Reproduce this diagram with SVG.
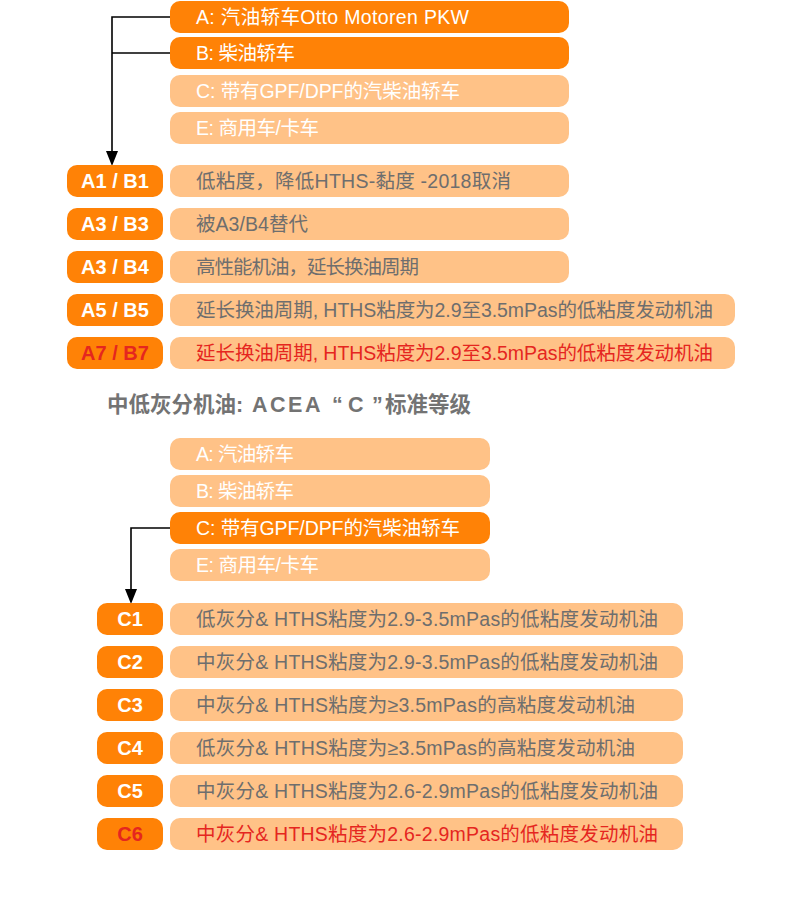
<svg xmlns="http://www.w3.org/2000/svg" width="800" height="904" viewBox="0 0 800 904">
<style>
text{font-family:"Liberation Sans","Noto Sans CJK SC",sans-serif;}
.dk{fill:#FF8206;}
.lt{fill:#FFC287;}
.tw{fill:#FFFFFF;font-size:19.5px;}
.tg{fill:#6E6E6E;font-size:19.5px;}
.tr{fill:#E5261F;font-size:19.5px;}
.lb{fill:#FFFFFF;font-size:20px;font-weight:bold;text-anchor:middle;}
.lbr{fill:#E5261F;font-size:20px;font-weight:bold;text-anchor:middle;}
.hd{fill:#737373;font-size:21.5px;font-weight:bold;}
.cn{fill:none;stroke:#000;stroke-width:1.6;}
.ah{fill:#000;}
</style>
<rect width="800" height="904" fill="#FFFFFF"/>

<g id="connectors">
<polyline class="cn" points="170,17 112,17 112,152"/>
<line class="cn" x1="170" y1="53" x2="112" y2="53"/>
<path class="ah" d="M106,151 L118,151 L112,166 Z"/>
<polyline class="cn" points="170,528 131,528 131,590"/>
<path class="ah" d="M125,589 L137,589 L131,604 Z"/>
</g>

<g id="top-A"><rect class="dk" x="170" y="1" width="399" height="32" rx="10"/><text class="tw" x="196" y="23.5" textLength="273" lengthAdjust="spacing">A: 汽油轿车Otto Motoren PKW</text></g>
<g id="top-B"><rect class="dk" x="170" y="37" width="399" height="32" rx="10"/><text class="tw" x="196" y="59.5" textLength="99" lengthAdjust="spacing">B: 柴油轿车</text></g>
<g id="top-C"><rect class="lt" x="170" y="75" width="399" height="32" rx="10"/><text class="tw" x="196" y="97.5" textLength="264" lengthAdjust="spacing">C: 带有GPF/DPF的汽柴油轿车</text></g>
<g id="top-E"><rect class="lt" x="170" y="112" width="399" height="32" rx="10"/><text class="tw" x="196" y="134.5" textLength="123" lengthAdjust="spacing">E: 商用车/卡车</text></g>

<g id="A1B1"><rect class="dk" x="67" y="165" width="96" height="32" rx="10"/><text class="lb" x="115" y="188">A1 / B1</text>
<rect class="lt" x="170" y="165" width="399" height="32" rx="10"/><text class="tg" x="196" y="187.5" textLength="315" lengthAdjust="spacing">低粘度，降低HTHS-黏度 -2018取消</text></g>
<g id="A3B3"><rect class="dk" x="67" y="208" width="96" height="32" rx="10"/><text class="lb" x="115" y="231">A3 / B3</text>
<rect class="lt" x="170" y="208" width="399" height="32" rx="10"/><text class="tg" x="196" y="230.5" textLength="112" lengthAdjust="spacing">被A3/B4替代</text></g>
<g id="A3B4"><rect class="dk" x="67" y="251" width="96" height="32" rx="10"/><text class="lb" x="115" y="274">A3 / B4</text>
<rect class="lt" x="170" y="251" width="399" height="32" rx="10"/><text class="tg" x="196" y="273.5" textLength="223" lengthAdjust="spacing">高性能机油，延长换油周期</text></g>
<g id="A5B5"><rect class="dk" x="67" y="294" width="96" height="32" rx="10"/><text class="lb" x="115" y="317">A5 / B5</text>
<rect class="lt" x="170" y="294" width="565" height="32" rx="10"/><text class="tg" x="196" y="316.5" textLength="517" lengthAdjust="spacing">延长换油周期, HTHS粘度为2.9至3.5mPas的低粘度发动机油</text></g>
<g id="A7B7"><rect class="dk" x="67" y="337" width="96" height="32" rx="10"/><text class="lbr" x="115" y="360">A7 / B7</text>
<rect class="lt" x="170" y="337" width="565" height="32" rx="10"/><text class="tr" x="196" y="359.5" textLength="517" lengthAdjust="spacing">延长换油周期, HTHS粘度为2.9至3.5mPas的低粘度发动机油</text></g>

<g id="heading"><text class="hd" x="107" y="412">中低灰分机油: <tspan x="252" letter-spacing="2.5">ACEA</tspan><tspan x="332">“</tspan><tspan x="348">C</tspan><tspan x="372">”</tspan><tspan x="385">标准等级</tspan></text></g>

<g id="bot-A"><rect class="lt" x="170" y="438" width="320" height="32" rx="10"/><text class="tw" x="196" y="460.5" textLength="98" lengthAdjust="spacing">A: 汽油轿车</text></g>
<g id="bot-B"><rect class="lt" x="170" y="475" width="320" height="32" rx="10"/><text class="tw" x="196" y="497.5" textLength="98" lengthAdjust="spacing">B: 柴油轿车</text></g>
<g id="bot-C"><rect class="dk" x="170" y="512" width="320" height="32" rx="10"/><text class="tw" x="196" y="534.5" textLength="264" lengthAdjust="spacing">C: 带有GPF/DPF的汽柴油轿车</text></g>
<g id="bot-E"><rect class="lt" x="170" y="549" width="320" height="32" rx="10"/><text class="tw" x="196" y="571.5" textLength="123" lengthAdjust="spacing">E: 商用车/卡车</text></g>

<g id="C1"><rect class="dk" x="97" y="603" width="66" height="32" rx="10"/><text class="lb" x="130" y="626">C1</text>
<rect class="lt" x="170" y="603" width="513" height="32" rx="10"/><text class="tg" x="196" y="625.5" textLength="462" lengthAdjust="spacing">低灰分&amp; HTHS粘度为2.9-3.5mPas的低粘度发动机油</text></g>
<g id="C2"><rect class="dk" x="97" y="646" width="66" height="32" rx="10"/><text class="lb" x="130" y="669">C2</text>
<rect class="lt" x="170" y="646" width="513" height="32" rx="10"/><text class="tg" x="196" y="668.5" textLength="462" lengthAdjust="spacing">中灰分&amp; HTHS粘度为2.9-3.5mPas的低粘度发动机油</text></g>
<g id="C3"><rect class="dk" x="97" y="689" width="66" height="32" rx="10"/><text class="lb" x="130" y="712">C3</text>
<rect class="lt" x="170" y="689" width="513" height="32" rx="10"/><text class="tg" x="196" y="711.5" textLength="439" lengthAdjust="spacing">中灰分&amp; HTHS粘度为≥3.5mPas的高粘度发动机油</text></g>
<g id="C4"><rect class="dk" x="97" y="732" width="66" height="32" rx="10"/><text class="lb" x="130" y="755">C4</text>
<rect class="lt" x="170" y="732" width="513" height="32" rx="10"/><text class="tg" x="196" y="754.5" textLength="439" lengthAdjust="spacing">低灰分&amp; HTHS粘度为≥3.5mPas的高粘度发动机油</text></g>
<g id="C5"><rect class="dk" x="97" y="775" width="66" height="32" rx="10"/><text class="lb" x="130" y="798">C5</text>
<rect class="lt" x="170" y="775" width="513" height="32" rx="10"/><text class="tg" x="196" y="797.5" textLength="462" lengthAdjust="spacing">中灰分&amp; HTHS粘度为2.6-2.9mPas的低粘度发动机油</text></g>
<g id="C6"><rect class="dk" x="97" y="818" width="66" height="32" rx="10"/><text class="lbr" x="130" y="841">C6</text>
<rect class="lt" x="170" y="818" width="513" height="32" rx="10"/><text class="tr" x="196" y="840.5" textLength="462" lengthAdjust="spacing">中灰分&amp; HTHS粘度为2.6-2.9mPas的低粘度发动机油</text></g>
</svg>
